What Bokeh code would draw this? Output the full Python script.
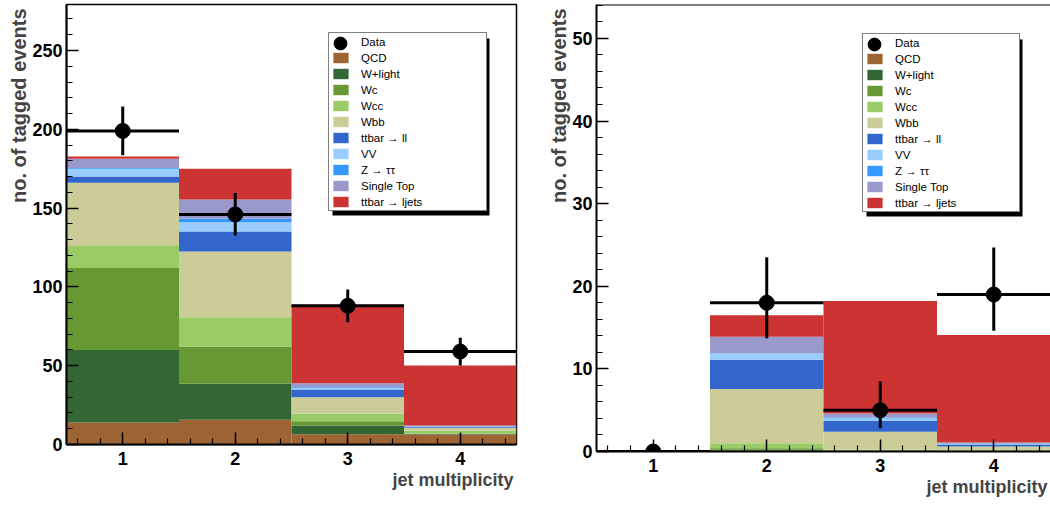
import numpy as np
from bokeh.plotting import figure
from bokeh.models import (Legend, LegendItem, Title, SingleIntervalTicker, Range1d, Span,
                          BoxAnnotation)
from bokeh.layouts import row
from bokeh.embed import file_html
from bokeh.resources import INLINE

# ---------------- data ----------------
jet_bins = [1, 2, 3, 4]
samples = ["QCD", "W+light", "Wc", "Wcc", "Wbb", "ttbar → ll", "VV", "Z → ττ", "Single Top", "ttbar → ljets"]
sample_colors = ["#9f6433", "#336633", "#669933", "#99cc66", "#cccc99",
                 "#3366cc", "#99ccff", "#3399ff", "#9999cc", "#cc3333"]

# left panel (all tagged events), per jet bin 1..4
left_qcd = [14.0, 15.7, 6.5, 6.3]
left_wlight = [46.0, 22.8, 5.5, 0.3]
left_wc = [52.0, 23.7, 2.8, 0.4]
left_wcc = [14.0, 18.6, 4.7, 1.9]
left_wbb = [40.1, 41.7, 10.5, 1.7]
left_ttll = [4.0, 12.7, 4.9, 0.7]
left_vv = [4.8, 5.9, 1.0, 0.3]
left_ztautau = [0.5, 2.1, 0.4, 0.2]
left_singletop = [5.9, 12.3, 2.6, 0.3]
left_ttljets = [1.4, 19.4, 49.7, 38.0]
left_data = [199, 146, 88, 59]
left_err_up = [15.5, 13.6, 10.4, 8.8]
left_err_down = [15.4, 13.4, 10.4, 8.8]

# right panel
right_qcd = [0.0, 0.1, 0.05, 0.05]
right_wlight = [0.0, 0.1, 0.05, 0.0]
right_wc = [0.0, 0.2, 0.05, 0.05]
right_wcc = [0.0, 0.6, 0.05, 0.05]
right_wbb = [0.0, 6.55, 2.2, 0.45]
right_ttll = [0.0, 3.55, 1.3, 0.25]
right_vv = [0.0, 0.75, 0.3, 0.1]
right_ztautau = [0.0, 0.05, 0.1, 0.05]
right_singletop = [0.0, 2.0, 0.5, 0.1]
right_ttljets = [0.0, 2.6, 13.6, 13.0]
right_data = [0, 18, 5, 19]
right_err_up = [0.0, 5.5, 3.5, 5.7]
right_err_down = [0.0, 4.3, 2.2, 4.4]

left_stack = [left_qcd, left_wlight, left_wc, left_wcc, left_wbb, left_ttll,
              left_vv, left_ztautau, left_singletop, left_ttljets]
right_stack = [right_qcd, right_wlight, right_wc, right_wcc, right_wbb, right_ttll,
               right_vv, right_ztautau, right_singletop, right_ttljets]

FONT = "Liberation Sans"


def make_panel(width, height, x_end, y_end, y_interval, stack, data, eup, edn,
               min_left, min_right, min_top, legend_xy, label_width, show_right_outline):
    p = figure(width=width, height=height, x_range=Range1d(0.5, x_end),
               y_range=Range1d(0, y_end), output_backend="svg", toolbar_location=None,
               min_border_left=min_left, min_border_right=min_right,
               min_border_top=min_top, min_border_bottom=48)
    p.background_fill_color = "white"
    p.border_fill_color = "white"
    p.xgrid.visible = False
    p.ygrid.visible = False
    if show_right_outline:
        p.outline_line_color = "black"
        p.outline_line_width = 1.5
    else:
        p.outline_line_color = None
        p.add_layout(Span(location=y_end, dimension="width", line_color="black", line_width=2))

    x = np.array(jet_bins, dtype=float)
    half = 0.5
    bottom = np.zeros(len(x))
    renderers = []
    for vals, col in zip(stack, sample_colors):
        v = np.array(vals, dtype=float)
        r = p.quad(left=x - half, right=x + half, bottom=bottom, top=bottom + v,
                   fill_color=col, line_color=None)
        renderers.append(r)
        bottom = bottom + v

    d = np.array(data, dtype=float)
    up = np.array(eup, dtype=float)
    dn = np.array(edn, dtype=float)
    p.segment(x0=x, y0=d - dn, x1=x, y1=d + up, line_color="black", line_width=3)
    p.segment(x0=x - half, y0=d, x1=x + half, y1=d, line_color="black", line_width=3)
    data_r = p.scatter(x, d, size=15, color="black")

    for ax in (p.xaxis[0], p.yaxis[0]):
        ax.major_tick_in = 12
        ax.major_tick_out = 0
        ax.minor_tick_in = 6
        ax.minor_tick_out = 0
        ax.axis_line_width = 2
        ax.major_tick_line_width = 1.5
        ax.minor_tick_line_width = 1.2
        ax.major_label_text_font = FONT
        ax.major_label_text_font_style = "bold"
        ax.major_label_text_font_size = "18px"
        ax.major_label_text_color = "black"
    p.xaxis[0].ticker = SingleIntervalTicker(interval=1, num_minor_ticks=5)
    p.yaxis[0].ticker = SingleIntervalTicker(interval=y_interval, num_minor_ticks=5)
    p.xaxis[0].major_label_standoff = 7
    p.yaxis[0].major_label_standoff = 4

    p.add_layout(Title(text="jet multiplicity", align="right", text_font=FONT,
                       text_font_size="18px", text_font_style="bold", standoff=0,
                       offset=3), "below")
    p.add_layout(Title(text="no. of tagged events", align="right", text_font=FONT,
                       text_font_size="20px", text_font_style="bold", standoff=0,
                       offset=4), "left")

    labels = ["Data"] + samples
    rends = [data_r] + renderers
    vx, vy = legend_xy
    pad, gw, gh, stand, sp = 2, 19, 13, 11, 3
    n = len(labels)
    box_w = 2 * pad + gw + stand + label_width
    box_h = 2 * pad + n * gh + (n - 1) * sp
    shadow = BoxAnnotation(left=vx + 4, right=vx + box_w + 4, bottom=vy - 4, top=vy + box_h - 4,
                           left_units="screen", right_units="screen",
                           bottom_units="screen", top_units="screen",
                           fill_color="black", fill_alpha=1, line_color=None)
    front = Legend(items=[LegendItem(label=l, renderers=[r]) for l, r in zip(labels, rends)],
                   location=(vx, vy), orientation="vertical", glyph_width=gw, glyph_height=gh,
                   label_height=gh, label_width=label_width, label_standoff=stand, spacing=sp,
                   padding=pad, margin=0, label_text_font=FONT, label_text_font_size="11.5px",
                   border_line_color="black", border_line_width=1,
                   background_fill_color="white", background_fill_alpha=1,
                   label_text_color="black")
    big = Legend(items=[LegendItem(label=" ", renderers=[data_r])],
                 location=(vx + pad + gw / 2 - 16, vy + box_h - pad - gh / 2 - 16),
                 glyph_width=32, glyph_height=32, label_height=32, label_width=4,
                 padding=0, margin=0, spacing=0, border_line_color=None,
                 background_fill_alpha=0, label_text_alpha=0, label_text_font_size="11px")
    p.add_layout(shadow)
    p.add_layout(front)
    p.add_layout(big)
    return p


p1 = make_panel(540, 492, 4.5, 279.2, 50, left_stack, left_data, left_err_up, left_err_down,
                66, 24, 4, (262, 233), 123, True)
p2 = make_panel(510, 499, 4.5, 54.1, 10, right_stack, right_data, right_err_up, right_err_down,
                56, 0, 1, (266, 239), 122, False)

layout = row(p1, p2)
open("out.html", "w").write(file_html(layout, INLINE))
